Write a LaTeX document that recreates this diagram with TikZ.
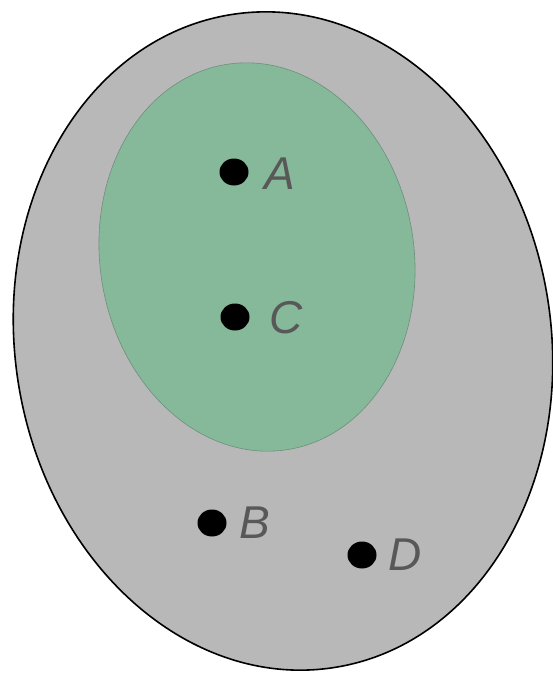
\documentclass[tikz,border=0pt]{standalone}
\usepackage{fontspec}
\setmainfont{Liberation Sans}
\definecolor{outerfill}{HTML}{B8B8B8}
\definecolor{innerfill}{HTML}{86B99A}
\definecolor{innerline}{HTML}{6E8F7C}
\definecolor{labelgray}{HTML}{585858}
\begin{document}
\begin{tikzpicture}[x=1pt,y=-1pt,
  lbl/.style={text=labelgray,font=\fontsize{46}{46}\selectfont\itshape,inner sep=0pt,anchor=center}]
\useasboundingbox (0,0) rectangle (553,674);
\fill[white] (0,0) rectangle (553,674);
\draw[black,line width=1.6pt,fill=outerfill,rotate around={9:(283,341)}] (283,341) ellipse [x radius=268, y radius=330.5];
\draw[innerline,line width=0.6pt,fill=innerfill,rotate around={9:(257,257)}] (257,257) ellipse [x radius=157, y radius=195];
\fill (234,172) ellipse [x radius=14.5, y radius=13.5];
\fill (235,317) ellipse [x radius=14.5, y radius=13.5];
\fill (212,523) ellipse [x radius=14.5, y radius=13.5];
\fill (362,555) ellipse [x radius=14.5, y radius=13.5];
\node[lbl] (la) at (280,174) {A};
\node[lbl] (lc) at (286,318) {C};
\node[lbl] (lb) at (255,523) {B};
\node[lbl] (ld) at (405,555) {D};
\end{tikzpicture}
\end{document}
